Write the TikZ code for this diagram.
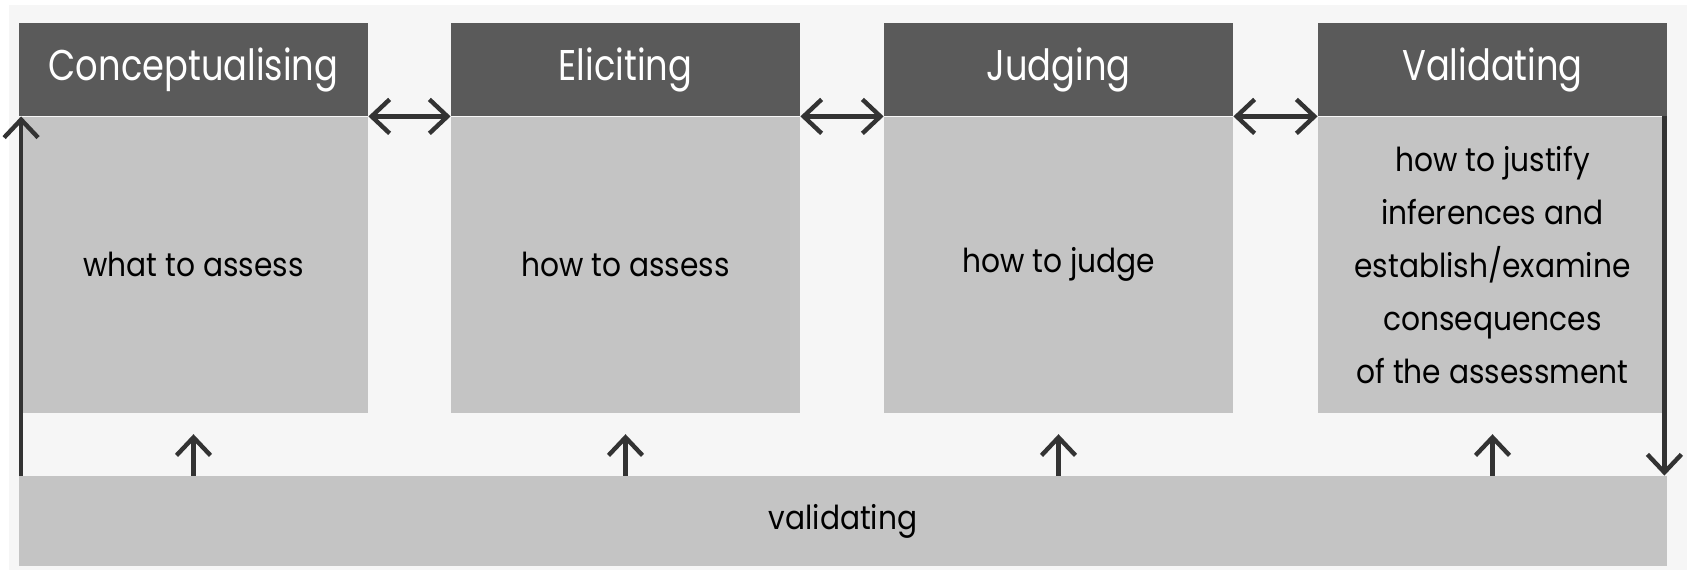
\documentclass[tikz,border=0pt]{standalone}
\usepackage{fontspec}
\setmainfont{Poppins}[FakeStretch=0.82]
\newfontfamily\bodyfont{Poppins}[FakeStretch=0.9]
\usetikzlibrary{arrows.meta,positioning}
\definecolor{headgrey}{HTML}{5A5A5A}
\definecolor{bodygrey}{HTML}{C4C4C4}
\definecolor{paper}{HTML}{F6F6F6}
\definecolor{linegrey}{HTML}{333333}
\tikzset{
  headbox/.style={fill=headgrey, text=white, minimum width=174.5pt, minimum height=46.5pt, inner sep=0pt, font=\fontsize{21.5}{25}\selectfont},
  bodybox/.style={fill=bodygrey, minimum width=174.5pt, minimum height=148pt, inner sep=0pt, align=center, font=\bodyfont\fontsize{16.5}{26.5}\selectfont},
  flow/.style={draw=linegrey, line width=2.2pt, -{Straight Barb[length=9pt,width=17pt,line width=2.2pt]}},
  twoway/.style={draw=linegrey, line width=2.2pt, {Straight Barb[length=9pt,width=17pt,line width=2.2pt]}-{Straight Barb[length=9pt,width=17pt,line width=2.2pt]}}
}
\begin{document}
\begin{tikzpicture}[x=0.5pt, y=-0.5pt]
    % Background
    \useasboundingbox (0,0) rectangle (1687,571);
    \fill[paper] (9,5) rectangle (1687,570);

    % Step headers
    \node[headbox] (concept) at (193.5,69.5) {Conceptualising};
    \node[headbox] (elicit) at (625.5,69.5) {Eliciting};
    \node[headbox] (judge) at (1058.5,69.5) {Judging};
    \node[headbox] (valid) at (1492.5,69.5) {Validating};

    % Step contents
    \node[bodybox, below=0pt of concept] (what) {what to assess};
    \node[bodybox, below=0pt of elicit] (how) {how to assess};
    \node[bodybox, below=0pt of judge] (howjudge) {how to judge};
    \node[bodybox, below=0pt of valid] (justify) {how to justify\\inferences and\\establish/examine\\consequences\\of the assessment};

    % Validating bar
    \node[fill=bodygrey, minimum width=824pt, minimum height=45pt, inner sep=0pt, font=\bodyfont\fontsize{16.5}{20}\selectfont] (bar) at (843,521) {validating};

    % Arrows between steps
    \draw[twoway] (concept.south east) -- (elicit.south west);
    \draw[twoway] (elicit.south east) -- (judge.south west);
    \draw[twoway] (judge.south east) -- (valid.south west);

    % Feedback loop
    \draw[flow] ([xshift=1.25pt]bar.north west) -- ([xshift=1.25pt]concept.south west);
    \draw[flow] ([xshift=-1.5pt]valid.south east) -- ([xshift=-1.5pt]bar.north east);

    % Arrows from the bar
    \draw[flow] (bar.north -| what.south) -- ([yshift=-10.5pt]what.south);
    \draw[flow] (bar.north -| how.south) -- ([yshift=-10.5pt]how.south);
    \draw[flow] (bar.north -| howjudge.south) -- ([yshift=-10.5pt]howjudge.south);
    \draw[flow] (bar.north -| justify.south) -- ([yshift=-10.5pt]justify.south);
\end{tikzpicture}
\end{document}
